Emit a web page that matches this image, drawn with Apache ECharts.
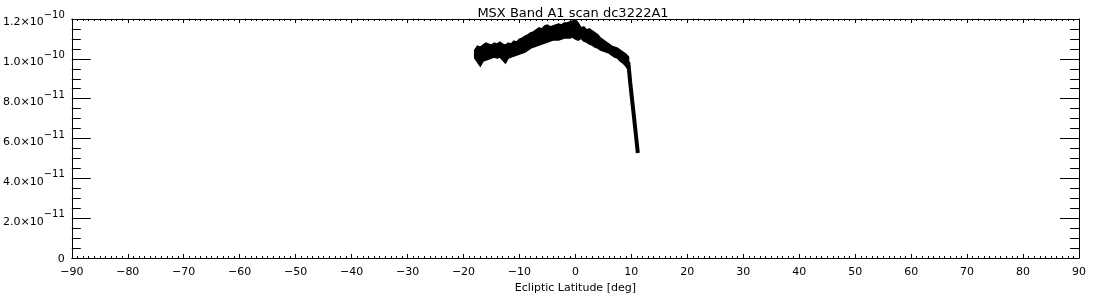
<!DOCTYPE html>
<html>
<head>
<meta charset="utf-8">
<script src="https://cdn.jsdelivr.net/npm/echarts@6/dist/echarts.min.js"></script>
<style>
html,body{margin:0;padding:0;background:#fff;}
#chart{width:1100px;height:300px;}
</style>
</head>
<body>
<div id="chart"></div>
<script>
// ---- data (flux in units of 1e-10) ----
const UNIT = 1e-10;
const latitude = [-18.0,-17.5,-17.0,-16.5,-16.0,-15.5,-15.0,-14.5,-14.0,-13.5,-13.0,-12.5,-12.0,-11.5,-11.0,-10.5,-10.0,-9.5,-9.0,-8.5,-8.0,-7.5,-7.0,-6.5,-6.0,-5.5,-5.0,-4.5,-4.0,-3.5,-3.0,-2.5,-2.0,-1.5,-1.0,-0.5,0.0,0.5,1.0,1.5,2.0,2.5,3.0,3.5,4.0,4.5,5.0,5.5,6.0,6.5,7.0,7.5,8.0,8.5,9.0,9.5];
const fluxUpper = [1.044,1.064,1.059,1.069,1.079,1.074,1.069,1.079,1.074,1.084,1.074,1.069,1.079,1.074,1.089,1.084,1.099,1.104,1.114,1.120,1.130,1.135,1.145,1.155,1.150,1.165,1.170,1.160,1.165,1.170,1.175,1.170,1.180,1.180,1.185,1.190,1.195,1.180,1.155,1.160,1.145,1.150,1.140,1.130,1.120,1.104,1.094,1.084,1.074,1.064,1.059,1.054,1.044,1.034,1.024,1.009];
const fluxLower = [1.004,0.984,0.964,0.989,0.994,0.999,1.004,1.009,1.004,1.009,0.994,0.979,1.004,1.009,1.014,1.019,1.024,1.029,1.034,1.044,1.054,1.059,1.064,1.069,1.074,1.079,1.084,1.089,1.094,1.094,1.094,1.099,1.104,1.104,1.104,1.109,1.099,1.094,1.104,1.089,1.084,1.074,1.069,1.059,1.054,1.044,1.039,1.034,1.029,1.019,1.009,1.004,0.989,0.979,0.964,0.944];
const dropLatitude = [9.45,9.8,10.15,10.5,10.85,11.15];
const dropFlux = [0.984,0.880,0.790,0.700,0.608,0.527];

const xTicks = {min:-90, max:90, interval:10};
const yTicks = {min:0, max:1.2e-10, interval:2e-11};
const titleText = 'MSX Band A1 scan dc3222A1';
const xName = 'Ecliptic Latitude [deg]';

// ---- build series data ----
const bandPolygon = [];
for (let i = 0; i < latitude.length; i++) bandPolygon.push([latitude[i], fluxUpper[i]*UNIT]);
for (let i = latitude.length - 1; i >= 0; i--) bandPolygon.push([latitude[i], fluxLower[i]*UNIT]);
const dropData = dropLatitude.map((x,i)=>[x, dropFlux[i]*UNIT]);

const FONT = 'DejaVu Sans';
function xLabel(v){ return v < 0 ? '\u2212' + Math.abs(v) : String(v); }
function yLabel(v){
  if (Math.abs(v) < 1e-15) return '{z|0}';
  const s = v.toExponential(1);
  const parts = s.split('e');
  const exp = parseInt(parts[1],10);
  return '{m|' + parts[0] + '\u00d710}{e|\u2212' + Math.abs(exp) + '}';
}

const lineColor = '#000';
function xAxisBase(pos, showLabel){
  return {
    type:'value', position:pos, min:xTicks.min, max:xTicks.max, interval:xTicks.interval,
    axisLine:{show:true, onZero:false, lineStyle:{color:lineColor, width:1}},
    axisTick:{show:true, inside:true, length:4, lineStyle:{color:lineColor}},
    minorTick:{show:true, splitNumber:10, length:2, lineStyle:{color:lineColor}},
    splitLine:{show:false}, minorSplitLine:{show:false},
    axisLabel:{show:showLabel, formatter:xLabel, color:'#000', fontFamily:FONT, fontSize:11, margin:9},
  };
}
function yAxisBase(pos, showLabel){
  return {
    type:'value', position:pos, min:yTicks.min, max:yTicks.max, interval:yTicks.interval,
    axisLine:{show:true, onZero:false, lineStyle:{color:lineColor, width:1}},
    axisTick:{show:true, inside:true, length:19, lineStyle:{color:lineColor}},
    minorTick:{show:true, splitNumber:4, length:9, lineStyle:{color:lineColor}},
    splitLine:{show:false}, minorSplitLine:{show:false},
    axisLabel:{
      show:showLabel, formatter:yLabel, margin:7, color:'#000', fontFamily:FONT, fontSize:11,
      rich:{
        m:{fontFamily:FONT, fontSize:11, color:'#000', lineHeight:12, padding:[7,0,0,0]},
        e:{fontFamily:FONT, fontSize:10, color:'#000', lineHeight:12, padding:[0,0,7,0]},
        z:{fontFamily:FONT, fontSize:11, color:'#000', lineHeight:12, padding:[3,0,0,0]}
      }
    }
  };
}

const xBottom = xAxisBase('bottom', true);
xBottom.name = xName;
xBottom.nameLocation = 'middle';
xBottom.nameGap = 23;
xBottom.nameTextStyle = {color:'#000', fontFamily:FONT, fontSize:11};

const chart = echarts.init(document.getElementById('chart'), null, {renderer:'canvas'});
chart.setOption({
  animation:false,
  backgroundColor:'#fff',
  title:{text:titleText, left:568, textAlign:'center', top:2,
    textStyle:{color:'#000', fontFamily:FONT, fontSize:13, fontWeight:'normal'}},
  grid:{left:71, right:21, top:19, bottom:42, containLabel:false},
  xAxis:[xBottom, xAxisBase('top', false)],
  yAxis:[yAxisBase('left', true), yAxisBase('right', false)],
  series:[
    {type:'custom', xAxisIndex:0, yAxisIndex:0, clip:true,
     data:[[latitude[0], fluxUpper[0]*UNIT]],
     renderItem:function(params, api){
       const pts = bandPolygon.map(p => api.coord(p));
       return {type:'polygon', shape:{points:pts},
               style:{fill:'#000', stroke:'#000', lineWidth:1.5, lineJoin:'miter'}};
     }},
    {type:'line', xAxisIndex:0, yAxisIndex:0, data:dropData, showSymbol:false, symbol:'none',
     lineStyle:{color:'#000', width:4}}
  ]
});
</script>
</body>
</html>
